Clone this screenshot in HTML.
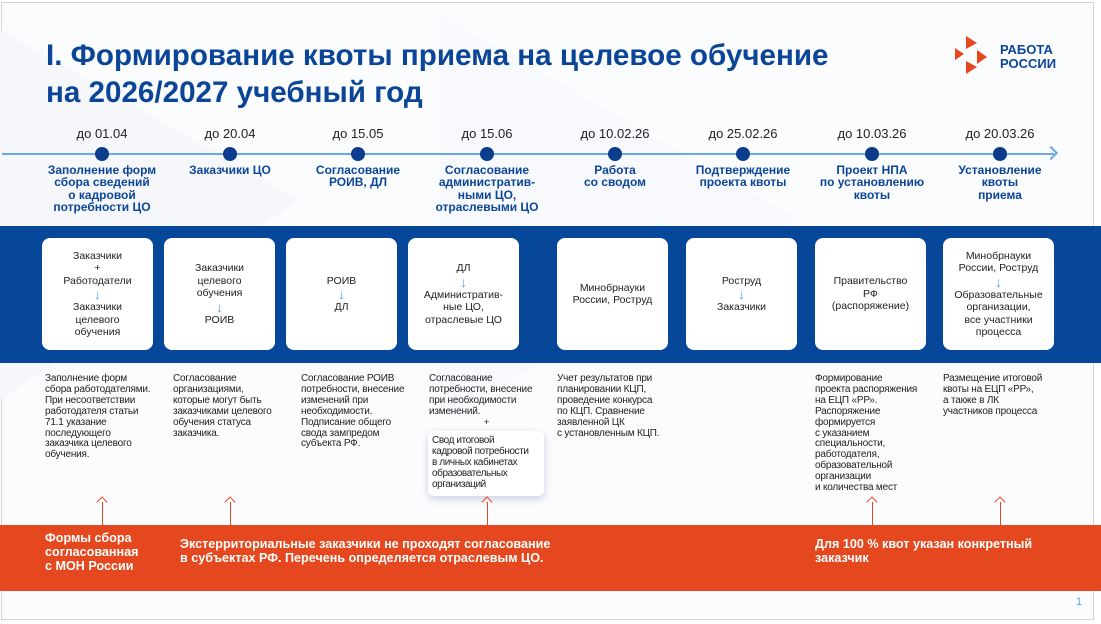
<!DOCTYPE html>
<html><head><meta charset="utf-8"><style>
*{margin:0;padding:0;box-sizing:border-box}
body{width:1101px;height:624px;overflow:hidden;background:#fff;font-family:"Liberation Sans",sans-serif;position:relative}
.frame{position:absolute;left:1px;top:2px;width:1093px;height:618px;border:1px solid #d4d4d4;background:#fbfcfe}
.a{position:absolute}
.title{left:46px;top:37px;font-size:29.6px;font-weight:bold;color:#0b4597;line-height:37px}
.date{top:126px;width:128px;text-align:center;font-size:13px;color:#222}
.dot{top:147px;width:14px;height:14px;border-radius:50%;background:#0b3d8c}
.stage{top:164px;width:128px;text-align:center;font-size:12px;font-weight:bold;color:#0b4597;line-height:12.4px}
.band{left:0;top:226px;width:1101px;height:137px;background:#06479a}
.box{top:238px;width:111px;height:112px;background:#fff;border-radius:8px;display:flex;flex-direction:column;justify-content:center;align-items:center;text-align:center;font-size:10.5px;color:#222;line-height:12.5px}
.ar{color:#5ea3e6;font-size:14px;line-height:14px}
.desc{top:374px;width:125px;font-size:10px;line-height:10.9px;color:#222;letter-spacing:-0.2px}
.orange{left:0;top:525px;width:1101px;height:66px;background:#e5481e}
.ot{color:#fff;font-weight:bold;font-size:12.6px;line-height:14px}
.up{width:1px;background:#e5481e;height:24px;top:502px}
.uph{top:498px;width:8px;height:8px;border-left:1px solid #e5481e;border-top:1px solid #e5481e;transform:rotate(45deg)}
</style></head><body>
<div class="frame"></div>
<svg class="a" style="left:0;top:0" width="1101" height="624">
<polygon points="0,30 300,200 0,400" fill="#f5f7fb"/>
<polygon points="440,15 800,220 440,420" fill="#f6f8fb" opacity="0.8"/>
</svg>
<div class="a title">I. Формирование квоты приема на целевое обучение<br>на 2026/2027 учебный год</div>
<svg class="a" style="left:955px;top:36px" width="40" height="42">
<polygon points="11,0 22,7 11,13" fill="#e5481e"/>
<polygon points="0,12 9,18 0,24" fill="#e5481e"/>
<polygon points="22,14 32,21 22,28" fill="#e5481e"/>
<polygon points="11,25 22,31 11,38" fill="#e5481e"/>
</svg>
<div class="a" style="left:1000px;top:43px;font-size:13px;font-weight:bold;color:#0b4597;line-height:14px">РАБОТА<br>РОССИИ</div>

<div class="a" style="left:2px;top:153px;width:1052px;height:2px;background:#6aa8e6"></div>
<div class="a" style="left:1046px;top:148px;width:10px;height:10px;border-right:2px solid #6aa8e6;border-top:2px solid #6aa8e6;transform:rotate(45deg)"></div>

<div class="a date" style="left:38px">до 01.04</div>
<div class="a date" style="left:166px">до 20.04</div>
<div class="a date" style="left:294px">до 15.05</div>
<div class="a date" style="left:423px">до 15.06</div>
<div class="a date" style="left:551px">до 10.02.26</div>
<div class="a date" style="left:679px">до 25.02.26</div>
<div class="a date" style="left:808px">до 10.03.26</div>
<div class="a date" style="left:936px">до 20.03.26</div>

<div class="a dot" style="left:95px"></div>
<div class="a dot" style="left:223px"></div>
<div class="a dot" style="left:351px"></div>
<div class="a dot" style="left:480px"></div>
<div class="a dot" style="left:608px"></div>
<div class="a dot" style="left:736px"></div>
<div class="a dot" style="left:865px"></div>
<div class="a dot" style="left:993px"></div>

<div class="a stage" style="left:38px">Заполнение форм<br>сбора сведений<br>о кадровой<br>потребности ЦО</div>
<div class="a stage" style="left:166px">Заказчики ЦО</div>
<div class="a stage" style="left:294px">Согласование<br>РОИВ, ДЛ</div>
<div class="a stage" style="left:423px">Согласование<br>административ-<br>ными ЦО,<br>отраслевыми ЦО</div>
<div class="a stage" style="left:551px">Работа<br>со сводом</div>
<div class="a stage" style="left:679px">Подтверждение<br>проекта квоты</div>
<div class="a stage" style="left:808px">Проект НПА<br>по установлению<br>квоты</div>
<div class="a stage" style="left:936px">Установление<br>квоты<br>приема</div>

<div class="a band"></div>
<div class="a box" style="left:42px">Заказчики<br>+<br>Работодатели<span class="ar">↓</span>Заказчики<br>целевого<br>обучения</div>
<div class="a box" style="left:164px">Заказчики<br>целевого<br>обучения<span class="ar">↓</span>РОИВ</div>
<div class="a box" style="left:286px">РОИВ<span class="ar">↓</span>ДЛ</div>
<div class="a box" style="left:408px">ДЛ<span class="ar">↓</span>Административ-<br>ные ЦО,<br>отраслевые ЦО</div>
<div class="a box" style="left:557px">Минобрнауки<br>России, Роструд</div>
<div class="a box" style="left:686px">Роструд<span class="ar">↓</span>Заказчики</div>
<div class="a box" style="left:815px">Правительство<br>РФ<br>(распоряжение)</div>
<div class="a box" style="left:943px">Минобрнауки<br>России, Роструд<span class="ar">↓</span>Образовательные<br>организации,<br>все участники<br>процесса</div>

<div class="a desc" style="left:45px">Заполнение форм<br>сбора работодателями.<br>При несоответствии<br>работодателя статьи<br>71.1 указание<br>последующего<br>заказчика целевого<br>обучения.</div>
<div class="a desc" style="left:173px">Согласование<br>организациями,<br>которые могут быть<br>заказчиками целевого<br>обучения статуса<br>заказчика.</div>
<div class="a desc" style="left:301px">Согласование РОИВ<br>потребности, внесение<br>изменений при<br>необходимости.<br>Подписание общего<br>свода зампредом<br>субъекта РФ.</div>
<div class="a desc" style="left:429px">Согласование<br>потребности, внесение<br>при необходимости<br>изменений.</div>
<div class="a" style="left:484px;top:417px;font-size:9px;color:#222">+</div>
<div class="a desc" style="left:428px;top:431px;width:116px;height:65px;background:#fff;border-radius:6px;box-shadow:0 3px 8px rgba(60,80,140,0.25);padding:5px 4px;letter-spacing:-0.4px">Свод итоговой<br>кадровой потребности<br>в личных кабинетах<br>образовательных<br>организаций</div>
<div class="a desc" style="left:557px">Учет результатов при<br>планировании КЦП,<br>проведение конкурса<br>по КЦП. Сравнение<br>заявленной ЦК<br>с установленным КЦП.</div>
<div class="a desc" style="left:815px">Формирование<br>проекта распоряжения<br>на ЕЦП «РР».<br>Распоряжение<br>формируется<br>с указанием<br>специальности,<br>работодателя,<br>образовательной<br>организации<br>и количества мест</div>
<div class="a desc" style="left:943px">Размещение итоговой<br>квоты на ЕЦП «РР»,<br>а также в ЛК<br>участников процесса</div>

<div class="a orange"></div>
<div class="a up" style="left:102px"></div><div class="a uph" style="left:98px"></div>
<div class="a up" style="left:230px"></div><div class="a uph" style="left:226px"></div>
<div class="a up" style="left:487px"></div><div class="a uph" style="left:483px"></div>
<div class="a up" style="left:872px"></div><div class="a uph" style="left:868px"></div>
<div class="a up" style="left:1000px"></div><div class="a uph" style="left:996px"></div>
<div class="a ot" style="left:45px;top:531px">Формы сбора<br>согласованная<br>с МОН России</div>
<div class="a ot" style="left:180px;top:537px">Экстерриториальные заказчики не проходят согласование<br>в субъектах РФ. Перечень определяется отраслевым ЦО.</div>
<div class="a ot" style="left:815px;top:537px">Для 100 % квот указан конкретный<br>заказчик</div>
<div class="a" style="left:1076px;top:596px;font-size:11px;color:#5ea3e6">1</div>
</body></html>
